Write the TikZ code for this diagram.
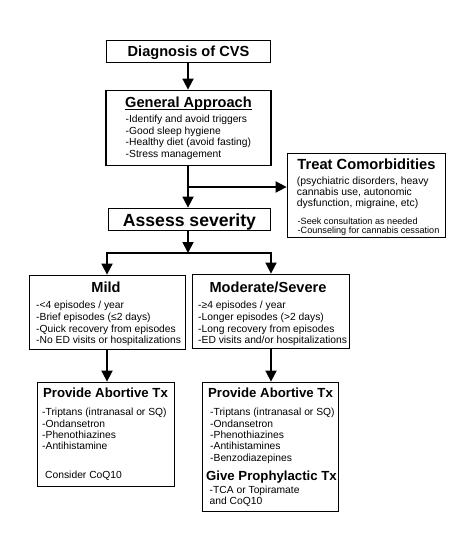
\documentclass[tikz,border=0pt]{standalone}
\usepackage{fontspec}
\setmainfont{Liberation Sans}
\usetikzlibrary{arrows.meta}
\begin{document}
\begin{tikzpicture}[x=1pt,y=-1pt,
  box/.style={draw, line width=1.8pt, inner sep=0pt},
  conn/.style={line width=1.8pt, -{Triangle[length=11pt,width=11pt]}},
  ttl/.style={font=\bfseries\fontsize{14.6}{16}\selectfont, inner sep=0pt, anchor=base},
  sttl/.style={font=\bfseries\fontsize{13.2}{15}\selectfont, inner sep=0pt, anchor=base},
  body/.style={font=\fontsize{10.3}{11.7}\selectfont, align=left, inner sep=0pt, anchor=north west},
]
\fill[white] (0,0) rectangle (474,553);
\useasboundingbox (0,0) rectangle (474,553);

% boxes
\node[box, minimum width=164pt, minimum height=22pt] (diag) at (188.5,51.5) {};
\node[box, minimum width=165pt, minimum height=75pt] (gen) at (188.5,128) {};
\node[box, minimum width=158pt, minimum height=84pt] (treat) at (366.5,195.5) {};
\node[box, minimum width=162pt, minimum height=22pt] (assess) at (189.5,219.5) {};
\node[box, minimum width=156pt, minimum height=74pt] (mild) at (107.5,312.5) {};
\node[box, minimum width=157pt, minimum height=74pt] (mod) at (271,311.5) {};
\node[box, minimum width=137pt, minimum height=104pt] (abl) at (106,434.5) {};
\node[box, minimum width=136pt, minimum height=129pt] (abr) at (270.5,447) {};

% junctions
\coordinate (j1) at (188,187);
\coordinate (j2) at (188,253);
\coordinate (jl) at (107,253);
\coordinate (jr) at (271,253);

% connectors
\draw[conn] (diag.south -| j1) -- (gen.north -| j1);
\draw[conn] (gen.south -| j1) -- (assess.north -| j1);
\draw[conn] (j1) -- (j1 -| treat.west);
\draw[conn] (assess.south -| j2) -- (j2);
\draw[conn] (j2) -| (jl |- mild.north);
\draw[conn] (j2) -| (jr |- mod.north);
\draw[conn] (mild.south -| jl) -- (abl.north -| jl);
\draw[conn] (mod.south -| jr) -- (abr.north -| jr);

% texts
\node[ttl] (tdiag) at (188.5,56.8) {Diagnosis of CVS};
\node[ttl] (tgen) at (188.5,107.3) {General Approach};
\draw[line width=1.1pt] ([yshift=-1.8pt]tgen.base west) -- ([yshift=-1.8pt]tgen.base east);
\node[body, font=\fontsize{10.3}{11.4}\selectfont] (bgen) at (125.5,115.2) {-Identify and avoid triggers\\-Good sleep hygiene\\-Healthy diet (avoid fasting)\\-Stress management};

\node[ttl, font=\bfseries\fontsize{14.7}{16}\selectfont] (ttreat) at (366.5,169.3) {Treat Comorbidities};
\node[body, font=\fontsize{10.4}{10.7}\selectfont] (btreat) at (296.7,176.9) {(psychiatric disorders, heavy\\cannabis use, autonomic\\dysfunction, migraine, etc)};
\node[body, font=\fontsize{9.1}{9.6}\selectfont] (btreat2) at (297.5,217.3) {-Seek consultation as needed\\-Counseling for cannabis cessation};

\node[ttl, font=\bfseries\fontsize{17.6}{19}\selectfont] (tassess) at (189.5,226.3) {Assess severity};

\node[ttl] (tmild) at (106,292.3) {Mild};
\node[body] (bmild) at (36,301.2) {-<4 episodes / year\\-Brief episodes (≤2 days)\\-Quick recovery from episodes\\-No ED visits or hospitalizations};

\node[ttl] (tmod) at (268,292.3) {Moderate/Severe};
\node[body] (bmod) at (198,301.2) {-≥4 episodes / year\\-Longer episodes (>2 days)\\-Long recovery from episodes\\-ED visits and/or hospitalizations};

\node[sttl] (tabl) at (105.5,397.8) {Provide Abortive Tx};
\node[body, font=\fontsize{10.3}{11.3}\selectfont] (babl) at (42,408.2) {-Triptans (intranasal or SQ)\\-Ondansetron\\-Phenothiazines\\-Antihistamine};
\node[body, anchor=base west] (cabl) at (45,478.7) {Consider CoQ10};

\node[sttl] (tabr) at (270.5,397.8) {Provide Abortive Tx};
\node[body, font=\fontsize{10.3}{11.3}\selectfont] (babr) at (210,408.2) {-Triptans (intranasal or SQ)\\-Ondansetron\\-Phenothiazines\\-Antihistamines\\-Benzodiazepines};
\node[sttl] (tpro) at (271.5,480.8) {Give Prophylactic Tx};
\node[body, font=\fontsize{10.3}{11}\selectfont] (bpro) at (209.5,486.2) {-TCA or Topiramate\\and CoQ10};
\end{tikzpicture}
\end{document}
